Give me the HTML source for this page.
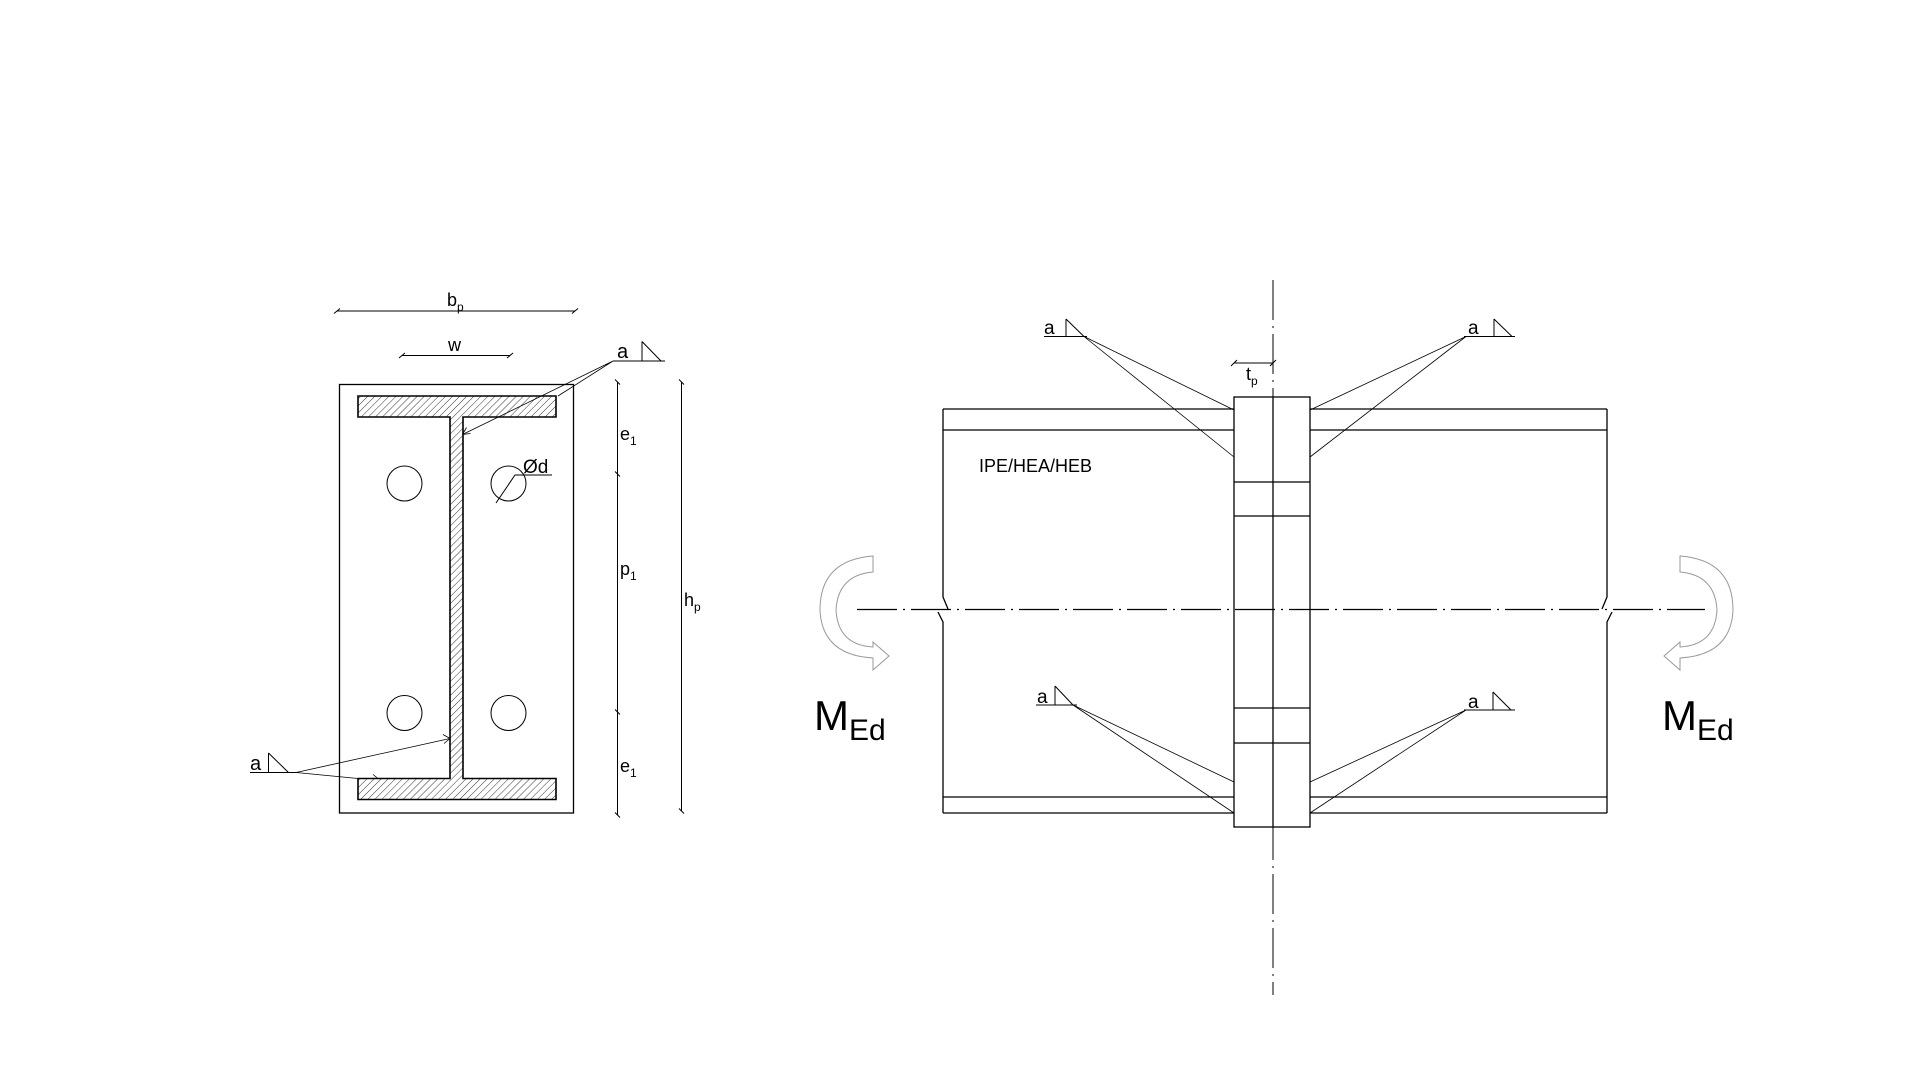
<!DOCTYPE html>
<html><head><meta charset="utf-8"><style>
html,body{margin:0;padding:0;background:#fff;}
svg{display:block}
text{font-family:"Liberation Sans",sans-serif;fill:#000}
</style></head><body>
<svg width="1920" height="1080" viewBox="0 0 1920 1080" xmlns="http://www.w3.org/2000/svg">
<defs>
<pattern id="h" width="5" height="5" patternUnits="userSpaceOnUse" patternTransform="rotate(45)">
<line x1="0" y1="0" x2="0" y2="5" stroke="#000" stroke-width="0.8"/>
</pattern>
</defs>
<g fill="none" stroke="#000" stroke-width="1.3">
<rect x="339.5" y="384.5" width="234" height="428.5"/>
<path d="M358,396 H556 V417 H463 V778.5 H556 V799.5 H358 V778.5 H450 V417 H358 Z" fill="url(#h)" stroke-width="1.6"/>
<circle cx="404.5" cy="483.5" r="17.5" stroke-width="1"/>
<circle cx="508.5" cy="483.5" r="17.5" stroke-width="1"/>
<circle cx="404.5" cy="713" r="17.5" stroke-width="1"/>
<circle cx="508.5" cy="713" r="17.5" stroke-width="1"/>
<path d="M552,475 H515 L496,503" stroke-width="1"/>
<line x1="337" y1="311" x2="575" y2="311" stroke-width="1"/>
<line x1="334" y1="313.5" x2="340" y2="308.5" stroke-width="1"/>
<line x1="572" y1="313.5" x2="578" y2="308.5" stroke-width="1"/>
<line x1="402" y1="355.5" x2="510" y2="355.5" stroke-width="1"/>
<line x1="399" y1="358" x2="405" y2="353" stroke-width="1"/>
<line x1="507" y1="358" x2="513" y2="353" stroke-width="1"/>
<path d="M613,361 H665 M642,341.5 V361 M642,341.5 L661,361" stroke-width="1"/>
<path d="M613,361 L558,396 M613,361 L462.5,434.5" stroke-width="0.8"/>
<path d="M462.5,434.5 l8,-1 M462.5,434.5 l4,-7" stroke-width="0.8"/>
<path d="M250,772.5 H297 M268.5,753 V772.5 M268.5,753 L288.5,772.5" stroke-width="1"/>
<path d="M296,772.5 L450,738.5 M296,772.5 L358,778.5 L378,778.5" stroke-width="0.8"/>
<path d="M450,738.5 l-7,-4 M450,738.5 l-6,5 M378,778.5 l-5,-4" stroke-width="0.8"/>
<line x1="617.5" y1="382" x2="617.5" y2="815" stroke-width="1"/>
<path d="M615,379.5 l5,5 M615,471.5 l5,5 M615,709.5 l5,5 M615,812.5 l5,5" stroke-width="1"/>
<line x1="681.5" y1="382" x2="681.5" y2="811" stroke-width="1"/>
<path d="M679,379.5 l5,5 M679,808.5 l5,5" stroke-width="1"/>

<line x1="1273" y1="280" x2="1273" y2="995" stroke-width="1" stroke-dasharray="40,6,2,6"/>
<path d="M943,409 V597 L948,609 M938,612 L943,622 V813 M943,409 H1234 M943,430 H1234 M943,797 H1234 M943,813 H1234"/>
<path d="M1607,409 V597 L1602,609 M1612,612 L1607,622 V813 M1310,409 H1607 M1310,430 H1607 M1310,797 H1607 M1310,813 H1607"/>
<line x1="857" y1="609.5" x2="1705" y2="609.5" stroke-width="1.2" stroke-dasharray="40,6,2,6"/>
<rect x="1234" y="397" width="76" height="430"/>
<line x1="1273" y1="397" x2="1273" y2="827"/>
<path d="M1234,482 H1310 M1234,516 H1310 M1234,708 H1310 M1234,743 H1310"/>
<line x1="1234" y1="363" x2="1273" y2="363" stroke-width="1"/>
<path d="M1231,366 l6,-6 M1270,366 l6,-6" stroke-width="1"/>
<g stroke-width="1">
<path d="M1044,336.5 H1087 M1066,319 V336.5 M1066,319 L1084,336.5"/>
<path d="M1464,336.5 H1515 M1494,319 V336.5 M1494,319 L1512,336.5"/>
<path d="M1036,705 H1077 M1055,686 V705 M1055,686 L1073,705"/>
<path d="M1464,710 H1515 M1493,692 V710 M1493,692 L1511,710"/>
</g>
<g stroke-width="0.8">
<path d="M1084,336.5 L1234,410 M1084,336.5 L1234,457"/>
<path d="M1466,336.5 L1310,410 M1466,336.5 L1310,457"/>
<path d="M1073,705 L1234,782 M1073,705 L1234,813"/>
<path d="M1466,710 L1310,782 M1466,710 L1310,813"/>
</g>
<path d="M873,556 Q820,560 820,610 Q822,655 873,658 L873,670 L889,656 L873,642 L873,647 Q838,645 836,610 Q838,575 873,572 Z" stroke="#999" stroke-width="1"/>
<path transform="translate(2553,0) scale(-1,1)" d="M873,556 Q820,560 820,610 Q822,655 873,658 L873,670 L889,656 L873,642 L873,647 Q838,645 836,610 Q838,575 873,572 Z" stroke="#999" stroke-width="1"/>
</g>
<text x="447" y="306" font-size="18">b<tspan font-size="12" dy="5">p</tspan></text>
<text x="448" y="351" font-size="18">w</text>
<text x="617" y="358" font-size="20">a</text>
<text x="250" y="770" font-size="20">a</text>
<text x="523" y="473" font-size="19">Ød</text>
<text x="620" y="440" font-size="18">e<tspan font-size="12" dy="5">1</tspan></text>
<text x="620" y="575" font-size="18">p<tspan font-size="12" dy="5">1</tspan></text>
<text x="620" y="772" font-size="18">e<tspan font-size="12" dy="5">1</tspan></text>
<text x="684" y="606" font-size="18">h<tspan font-size="12" dy="5">p</tspan></text>
<text x="979" y="472" font-size="18">IPE/HEA/HEB</text>
<text x="1246" y="380" font-size="18">t<tspan font-size="12" dy="5">p</tspan></text>
<text x="1044" y="334" font-size="19">a</text>
<text x="1468" y="334" font-size="19">a</text>
<text x="1037" y="703" font-size="19">a</text>
<text x="1468" y="708" font-size="19">a</text>
<text x="814" y="730" font-size="42">M<tspan font-size="30" dy="10">Ed</tspan></text>
<text x="1662" y="730" font-size="42">M<tspan font-size="30" dy="10">Ed</tspan></text>
</svg>
</body></html>
